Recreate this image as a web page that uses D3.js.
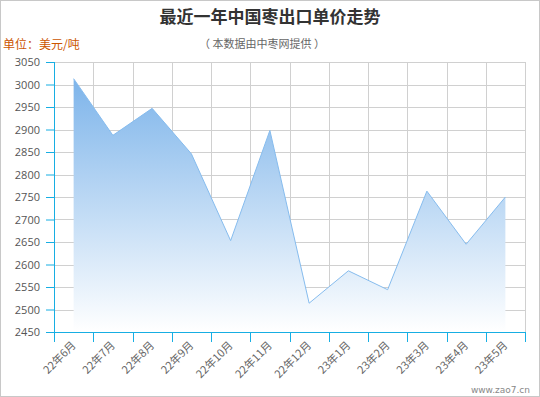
<!DOCTYPE html>
<html>
<head>
<meta charset="utf-8">
<script src="https://d3js.org/d3.v7.min.js"></script>
<style>
body { margin: 0; padding: 0; background: #fff; }
svg { display: block; font-family: "Noto Sans CJK SC", "DejaVu Sans", sans-serif; }
</style>
</head>
<body>
<script>
var months = ["22年6月", "22年7月", "22年8月", "22年9月", "22年10月", "22年11月",
              "22年12月", "23年1月", "23年2月", "23年3月", "23年4月", "23年5月"];
var prices = [3013, 2887, 2947, 2846, 2653, 2898, 2514, 2586, 2544, 2763, 2645, 2750];
var yTicks = [2450, 2500, 2550, 2600, 2650, 2700, 2750, 2800, 2850, 2900, 2950, 3000, 3050];

var width = 540, height = 397;
var margin = {top: 62, left: 54, right: 15, bottom: 65};

var svg = d3.select("body").append("svg")
    .attr("width", width)
    .attr("height", height);

svg.append("rect")
    .attr("x", 0.5).attr("y", 0.5)
    .attr("width", width - 1).attr("height", height - 1)
    .attr("fill", "#fff").attr("stroke", "#c8c8c8");

var x = d3.scaleBand()
    .domain(months)
    .range([margin.left, width - margin.right]);

var y = d3.scaleLinear()
    .domain([2450, 3050])
    .range([height - margin.bottom, margin.top]);

var defs = svg.append("defs");
var grad = defs.append("linearGradient")
    .attr("id", "fillGrad")
    .attr("x1", 0).attr("y1", 0).attr("x2", 0).attr("y2", 1);
grad.append("stop").attr("offset", "0%").attr("stop-color", "#7db4ea").attr("stop-opacity", 1);
grad.append("stop").attr("offset", "100%").attr("stop-color", "#ffffff").attr("stop-opacity", 1);

// grid
var grid = svg.append("g");
grid.selectAll("line.h")
    .data(yTicks)
    .enter().append("line")
    .attr("x1", margin.left).attr("x2", width - margin.right)
    .attr("y1", function(d) { return Math.round(y(d)) + 0.5; })
    .attr("y2", function(d) { return Math.round(y(d)) + 0.5; })
    .attr("stroke", "#d0d0d0");
grid.selectAll("line.v")
    .data(months.slice(1).concat(["end"]))
    .enter().append("line")
    .attr("x1", function(d, i) { return Math.round(x(months[0]) + x.bandwidth() * (i + 1)) + 0.5; })
    .attr("x2", function(d, i) { return Math.round(x(months[0]) + x.bandwidth() * (i + 1)) + 0.5; })
    .attr("y1", margin.top).attr("y2", height - margin.bottom)
    .attr("stroke", "#d0d0d0");

var cx = function(d, i) { return x(months[i]) + x.bandwidth() / 2; };

var area = d3.area()
    .x(cx)
    .y0(height - margin.bottom)
    .y1(function(d) { return y(d); });

var line = d3.line()
    .x(cx)
    .y(function(d) { return y(d); });

svg.append("path")
    .datum(prices)
    .attr("d", area)
    .attr("fill", "url(#fillGrad)");

svg.append("path")
    .datum(prices)
    .attr("d", line)
    .attr("fill", "none")
    .attr("stroke", "#86bcee")
    .attr("stroke-width", 1);

// axes
var axisColor = "#17aee3";
var yAxis = svg.append("g")
    .attr("transform", "translate(" + margin.left + ",0)")
    .call(d3.axisLeft(y).tickValues(yTicks).tickFormat(d3.format("d"))
        .tickSize(8).tickSizeOuter(0).tickPadding(6));
yAxis.select(".domain").remove();
yAxis.append("line")
    .attr("x1", 0.5).attr("x2", 0.5)
    .attr("y1", margin.top).attr("y2", height - margin.bottom + 10)
    .attr("stroke", axisColor);
yAxis.selectAll(".tick line").attr("stroke", axisColor);
yAxis.selectAll(".tick text")
    .attr("fill", "#555")
    .style("font-size", "11px")
    .style("font-family", "'Open Sans', 'DejaVu Sans', sans-serif");

var xAxis = svg.append("g")
    .attr("transform", "translate(0," + (height - margin.bottom) + ")");
xAxis.append("line")
    .attr("x1", margin.left).attr("x2", width - margin.right)
    .attr("y1", 0.5).attr("y2", 0.5)
    .attr("stroke", axisColor);
xAxis.selectAll("line.t")
    .data(months.concat(["end"]))
    .enter().append("line")
    .attr("x1", function(d, i) { return Math.round(margin.left + x.bandwidth() * i) + 0.5; })
    .attr("x2", function(d, i) { return Math.round(margin.left + x.bandwidth() * i) + 0.5; })
    .attr("y1", 0).attr("y2", 10)
    .attr("stroke", axisColor);
xAxis.selectAll("text")
    .data(months)
    .enter().append("text")
    .attr("transform", function(d) {
        return "translate(" + (x(d) + x.bandwidth() / 2 + 3) + ",14) rotate(-45)";
    })
    .attr("text-anchor", "end")
    .attr("fill", "#666")
    .style("font-size", "11px")
    .text(function(d) { return d; });

// titles
svg.append("text")
    .attr("x", width / 2).attr("y", 23)
    .attr("text-anchor", "middle")
    .attr("fill", "#333")
    .style("font-size", "17px")
    .style("font-weight", "bold")
    .text("最近一年中国枣出口单价走势");

svg.append("text")
    .attr("x", 262).attr("y", 48)
    .attr("text-anchor", "middle")
    .attr("fill", "#666")
    .style("font-size", "11px")
    .text("（ 本数据由中枣网提供 ）");

svg.append("text")
    .attr("x", 3).attr("y", 49)
    .attr("fill", "#cc5500")
    .style("font-size", "12px")
    .text("单位：美元/吨");

svg.append("text")
    .attr("x", 530).attr("y", 393)
    .attr("text-anchor", "end")
    .attr("fill", "#888")
    .style("font-size", "9px")
    .style("font-family", "'DejaVu Sans', sans-serif")
    .text("www.zao7.cn");
</script>
</body>
</html>
